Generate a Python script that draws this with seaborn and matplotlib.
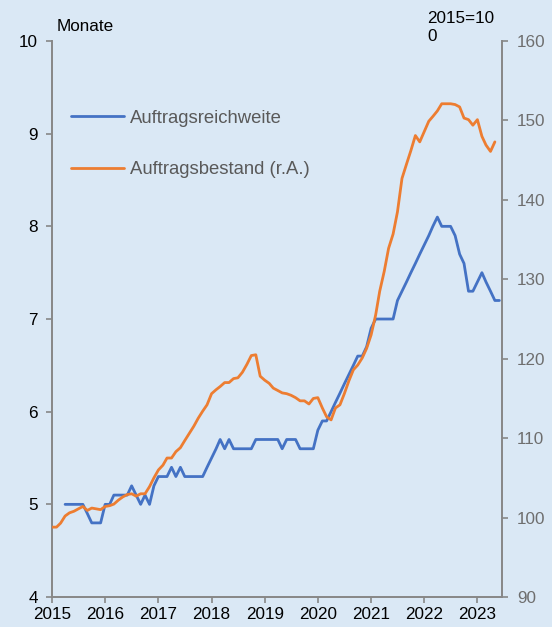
import matplotlib
matplotlib.use("Agg")
import matplotlib.pyplot as plt
import numpy as np
import pandas as pd
import seaborn as sns

# ---- data (monthly) ----
reichweite_start = "2015-04"
reichweite = [5.0, 5.0, 5.0, 5.0, 5.0, 4.9, 4.8, 4.8, 4.8,
              5.0, 5.0, 5.1, 5.1, 5.1, 5.1, 5.2, 5.1, 5.0, 5.1, 5.0, 5.2,
              5.3, 5.3, 5.3, 5.4, 5.3, 5.4, 5.3, 5.3, 5.3, 5.3, 5.3, 5.4, 5.5, 5.6, 5.7,
              5.6, 5.7, 5.6, 5.6, 5.6, 5.6, 5.6, 5.7, 5.7, 5.7, 5.7, 5.7, 5.7,
              5.6, 5.7, 5.7, 5.7, 5.6, 5.6, 5.6, 5.6,
              5.8, 5.9, 5.9, 6.0, 6.1, 6.2, 6.3, 6.4, 6.5, 6.6, 6.6, 6.7, 6.9,
              7.0, 7.0, 7.0, 7.0, 7.0, 7.2, 7.3, 7.4, 7.5, 7.6, 7.7, 7.8, 7.9, 8.0, 8.1,
              8.0, 8.0, 8.0, 7.9, 7.7, 7.6, 7.3, 7.3, 7.4, 7.5, 7.4, 7.3, 7.2, 7.2]

bestand_start = "2015-01"
bestand = [98.8, 98.8, 99.3, 100.2, 100.6, 100.8, 101.1, 101.4, 100.9, 101.2, 101.1, 101.0,
           101.4, 101.5, 101.7, 102.2, 102.6, 102.9, 103.0, 102.7, 103.0, 103.0, 103.9, 105.0,
           106.0, 106.6, 107.5, 107.5, 108.3, 108.8, 109.7, 110.6, 111.5, 112.5, 113.4, 114.2,
           115.6, 116.1, 116.5, 117.0, 117.0, 117.5, 117.6, 118.3, 119.3, 120.4, 120.5, 117.8,
           117.3, 116.9, 116.3, 116.0, 115.7, 115.6, 115.4, 115.1, 114.7, 114.7, 114.3, 115.0,
           115.1, 113.8, 112.7, 112.3, 113.8, 114.2, 115.6, 117.2, 118.6, 119.2, 120.1, 121.3,
           123.0, 125.5, 128.5, 131.0, 133.9, 135.7, 138.5, 142.7, 144.5, 146.2, 148.1, 147.3,
           148.6, 149.9, 150.5, 151.2, 152.1, 152.1, 152.1, 152.0, 151.7, 150.3, 150.1, 149.4,
           150.1, 148.0, 146.9, 146.1, 147.3]

year_ticks = list(range(2015, 2024))
left_ticks = [4, 5, 6, 7, 8, 9, 10]
right_ticks = [90, 100, 110, 120, 130, 140, 150, 160]

label_blue = "Auftragsreichweite"
label_orange = "Auftragsbestand (r.A.)"

df_blue = pd.DataFrame({"date": pd.date_range(reichweite_start, periods=len(reichweite), freq="MS"),
                        "value": reichweite})
df_orange = pd.DataFrame({"date": pd.date_range(bestand_start, periods=len(bestand), freq="MS"),
                          "value": bestand})

# ---- style ----
sns.set_theme(style="white")
plt.rcParams["font.family"] = ["Liberation Sans", "DejaVu Sans"]
bg = "#DAE8F5"
blue = "#4472C4"
orange = "#ED7D31"
spine_c = "#878787"
grey_txt = "#595959"
fs = 12.3
fs_leg = 13.3

fig = plt.figure(figsize=(5.52, 6.27), dpi=100, facecolor=bg)
ax = fig.add_axes([0.0942, 0.0478, 0.8147, 0.8868])
ax.set_facecolor(bg)
ax2 = ax.twinx()

sns.lineplot(data=df_blue, x="date", y="value", ax=ax, color=blue, linewidth=2.0, label=label_blue, legend=False)
sns.lineplot(data=df_orange, x="date", y="value", ax=ax2, color=orange, linewidth=2.0, label=label_orange, legend=False)

ax.set_xlim(pd.Timestamp("2015-01-01"), pd.Timestamp("2023-06-17"))
ax.set_ylim(4, 10)
ax2.set_ylim(90, 160)
ax.set_yticks(left_ticks)
ax2.set_yticks(right_ticks)
ax.set_xticks([pd.Timestamp(f"{y}-01-01") for y in year_ticks])
ax.set_xticklabels([str(y) for y in year_ticks])
ax.set_xlabel("")
ax.set_ylabel("")
ax2.set_ylabel("")

for a in (ax, ax2):
    for s in a.spines.values():
        s.set_color(spine_c)
        s.set_linewidth(1.4)
    a.spines["top"].set_visible(False)
ax.spines["right"].set_visible(False)
ax2.spines["left"].set_visible(False)
ax2.spines["bottom"].set_visible(False)

ax.tick_params(axis="y", direction="out", length=4, width=1.2, color=spine_c, labelsize=fs, labelcolor="black", pad=6, left=True)
ax.tick_params(axis="x", direction="out", length=4, width=1.2, color=spine_c, labelsize=fs, labelcolor="black", pad=3, bottom=True)
ax2.tick_params(axis="y", direction="out", length=4, width=1.2, color=spine_c, labelsize=fs, labelcolor="#6E6E6E", pad=7, right=True)

fig.text(0.103, 0.958, "Monate", fontsize=fs, color="black", va="center", ha="left")
fig.text(0.7736, 0.983, "2015=10\n0", fontsize=fs, color="black", va="top", ha="left", linespacing=1.3)

h1, l1 = ax.get_legend_handles_labels()
h2, l2 = ax2.get_legend_handles_labels()
leg = ax2.legend(h1 + h2, l1 + l2, loc="upper left", bbox_to_anchor=(0.1295, 0.825),
                 bbox_transform=fig.transFigure, frameon=False, fontsize=fs_leg,
                 borderpad=0, borderaxespad=0, handlelength=2.85, handletextpad=0.3,
                 labelspacing=1.88)
for t in leg.get_texts():
    t.set_color(grey_txt)

fig.savefig("out.png", dpi=100, facecolor=bg)
